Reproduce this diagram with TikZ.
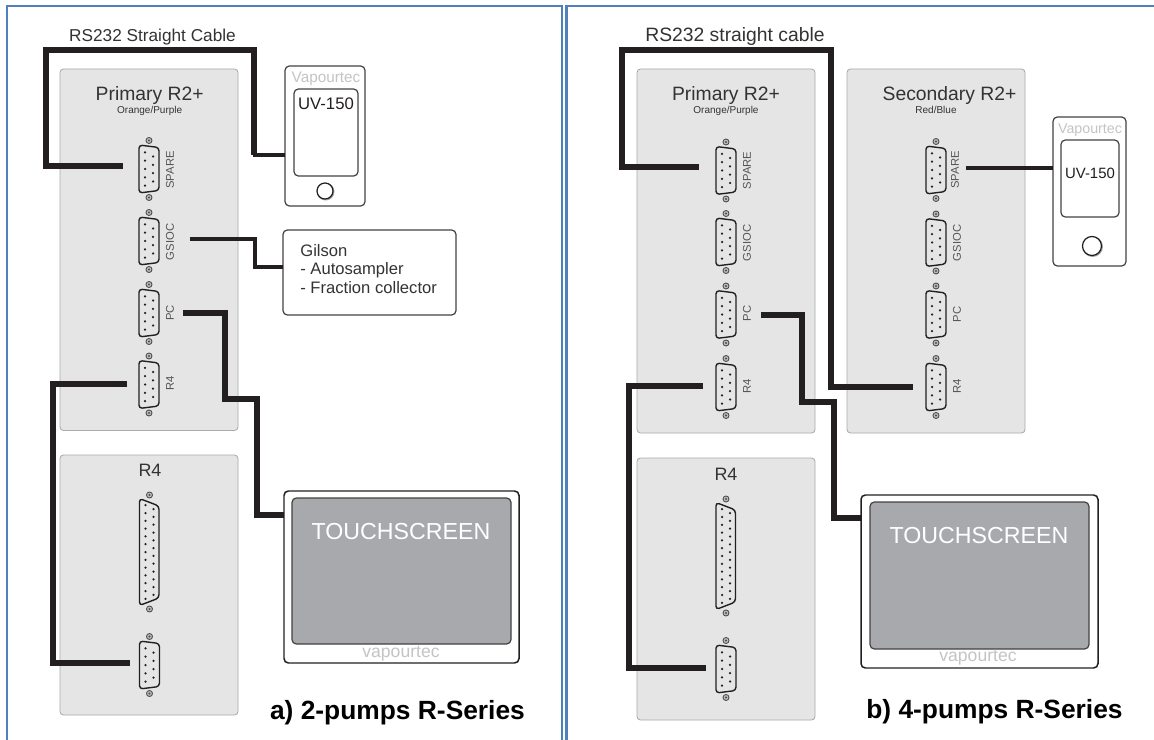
\documentclass[tikz,border=0pt]{standalone}
\usepackage{fontspec}
\setmainfont{Liberation Sans}
\definecolor{framec}{HTML}{4F81BD}
\definecolor{panelc}{HTML}{E5E5E5}
\definecolor{paneld}{HTML}{ABABAB}
\definecolor{screenc}{HTML}{A7A9AC}
\definecolor{inkc}{HTML}{231F20}
\definecolor{textc}{HTML}{333333}
\definecolor{labelc}{HTML}{555555}
\definecolor{logoc}{HTML}{C4C4C4}
\newcommand{\fs}[1]{\fontsize{#1}{#1}\selectfont}
\tikzset{
  framel/.style={draw=framec,line width=1.4pt},
  panelbox/.style={draw=paneld,fill=panelc,line width=0.5pt,rounded corners=2pt,inner sep=0pt,outer sep=0pt},
  devbox/.style={draw=inkc!85,fill=white,line width=0.7pt,rounded corners=2.5pt,inner sep=0pt,outer sep=0pt},
  touchbox/.style={draw=inkc,fill=white,line width=0.85pt,rounded corners=2.5pt,inner sep=0pt,outer sep=0pt},
  screenbox/.style={draw=inkc!85,fill=screenc,line width=0.7pt,rounded corners=2.5pt,inner sep=0pt,outer sep=0pt},
  lampc/.style={circle,draw=inkc,fill=white,line width=0.7pt,inner sep=0pt,outer sep=0pt},
  port/.style={inner sep=0pt,outer sep=0pt,minimum width=0.4cm,minimum height=0.96cm},
  cablefat/.style={draw=inkc,line width=3.6pt,line join=miter},
  cablethin/.style={draw=inkc,line width=2.1pt,line join=miter},
  title/.style={text=textc,inner sep=0pt,anchor=base},
  portlabel/.style={text=labelc,font=\fs{6.4},rotate=90,inner sep=0pt},
  body/.style={draw=inkc,line width=0.8pt,rounded corners=1.9pt},
}
% corners -> node
\newcommand{\bx}[6]{\node[#1,minimum width={(#5-#3)*0.02cm},minimum height={(#6-#4)*0.02cm}] (#2) at ({(#3+#5)/2},{(#4+#6)/2}) {};}
\newcommand{\screws}[3]{%
  \foreach \s in {-1,1} {
    \draw[inkc!80,fill=panelc!60!gray,line width=0.5pt] (#1,{#2+\s*#3}) circle[radius=3];
    \fill[inkc!80] (#1,{#2+\s*#3}) circle[radius=1.2];
  }}
% D-sub 9: name, cx, cy, label, label dx, label dy
\newcommand{\dnine}[6]{%
  \node[port] (#1) at (#2,#3) {};
  \begin{scope}[shift={(#2,#3)}]
    \draw[body] (-10,-24) -- (10,-21.5) -- (10,21.5) -- (-10,24) -- cycle;
    \foreach \d in {-16.7,-8.35,0,8.35,16.7} \fill[inkc] (-4,\d) circle[radius=1.25];
    \foreach \d in {-12.5,-4.2,4.2,12.5} \fill[inkc] (4,\d) circle[radius=1.25];
  \end{scope}
  \screws{#2}{#3}{28.5}
  \node[portlabel] (#1-l) at ({#2+#5},{#3+#6}) {#4};}
% D-sub 25: name, cx, cy
\newcommand{\dtwofive}[3]{%
  \node[port,minimum height=2.1cm] (#1) at (#2,#3) {};
  \begin{scope}[shift={(#2,#3)}]
    \draw[body] (-10,-53.5) -- (9.5,-46) -- (9.5,46) -- (-10,53.5) -- cycle;
    \foreach \k in {-6,...,6} \fill[inkc] (-4,{\k*7.8}) circle[radius=1.25];
    \foreach \k in {-5.5,-4.5,...,5.5} \fill[inkc] (4,{\k*7.8}) circle[radius=1.25];
  \end{scope}
  \screws{#2}{#3}{57}}
\begin{document}
\begin{tikzpicture}[x=0.02cm,y=-0.02cm]
\useasboundingbox (0,0) rectangle (1154,740);
\fill[white] (0,0) rectangle (1154,740);
% frames
\coordinate (fa) at (7,740); \coordinate (fb) at (7,6); \coordinate (fc) at (562,6); \coordinate (fd) at (562,740);
\coordinate (ga) at (566.7,740); \coordinate (gb) at (566.7,6); \coordinate (gc) at (1154,6);
\draw[framel] (fa) -- (fb) -- (fc) -- (fd);
\draw[framel] (ga) -- (gb) -- (gc);

% ===== LEFT =====
\bx{panelbox}{pA}{60}{69}{238}{430.5}
\bx{panelbox}{rA}{60}{455}{238}{715}
\node[title,font=\fs{11}] (pAt) at (149.7,101) {Primary R2+};
\node[title,font=\fs{5.7}] (pAs) at (149.7,113.7) {Orange/Purple};
\node[title,font=\fs{10.2}] (rAt) at (150,476.7) {R4};
\dnine{Asp}{149}{169}{SPARE}{21}{1}
\dnine{Ags}{149}{241}{GSIOC}{21}{1}
\dnine{Apc}{149}{313}{PC}{21}{0}
\dnine{Ar4}{149}{384.5}{R4}{21}{-1}
\dtwofive{Adb}{149.5}{552}
\dnine{Alo}{149.5}{665}{}{0}{0}

% UV left
\bx{devbox}{uvA}{285}{66}{365}{206}
\bx{devbox}{uvAi}{294}{89}{358}{176}
\node[text=logoc,font=\fs{8.7},inner sep=0pt,anchor=base] (uvAv) at (326,83) {Vapourtec};
\node[text=inkc,font=\fs{9.5},inner sep=0pt,anchor=base] (uvAt) at (326,110) {UV-150};
\fill[gray!70] (325.7,191.7) circle[radius=8.8];
\node[lampc,minimum size=0.32cm] (uvAc) at (325,191) {};

% Gilson
\bx{devbox}{gil}{283}{230}{456}{315}
\node[text=textc,font=\fs{9.45},inner sep=0pt,anchor=base west] (gil1) at (300,256) {Gilson};
\node[text=textc,font=\fs{9.45},inner sep=0pt,anchor=base west] (gil2) at (300,275) {- Autosampler};
\node[text=textc,font=\fs{9.45},inner sep=0pt,anchor=base west] (gil3) at (300,294) {- Fraction collector};

% Touchscreen left
\bx{touchbox}{tsA}{284}{491}{519}{663}
\bx{screenbox}{tsAi}{292}{498}{511}{644}
\node[text=white,font=\fs{13.2},inner sep=0pt,anchor=base] (tsAt) at (401,539) {TOUCHSCREEN};
\node[text=logoc,font=\fs{10},inner sep=0pt,anchor=base] (tsAv) at (401,657) {vapourtec};

\node[title,font=\fs{9.8}] (capA) at (152.5,41.7) {RS232 Straight Cable};
\node[text=black,font=\bfseries\fs{15},inner sep=0pt,anchor=base] (titA) at (397.5,719) {a) 2-pumps R-Series};

% cables left
\coordinate (cA1) at (122.7,166);
\coordinate (cA2) at (254,155);
\draw[cablefat] (cA1) -- ++(-76.7,0) -- ++(0,-116) -- ++(208,0) -- (cA2);
\draw[cablethin] (252.5,155) -- (uvA.west |- cA2);
\coordinate (cB1) at (190,239);
\coordinate (cB2) at (255,267);
\draw[cablethin] (cB1) -| (cB2) -- (gil.west |- cB2);
\coordinate (cC1) at (183,313);
\coordinate (cC2) at (257,515);
\draw[cablefat] (cC1) -- ++(42,0) -- ++(0,86) -- ++(32,0) -- (cC2) -- (tsA.west |- cC2);
\coordinate (cD1) at (127,384);
\coordinate (cD2) at (130,663);
\draw[cablefat] (cD1) -- ++(-74,0) |- (cD2);

% ===== RIGHT =====
\bx{panelbox}{pB}{637}{69}{815}{433}
\bx{panelbox}{rB}{637}{458}{815}{720}
\bx{panelbox}{sB}{847}{69}{1025}{433}
\node[title,font=\fs{11}] (pBt) at (726,101) {Primary R2+};
\node[title,font=\fs{5.7}] (pBs) at (726,114) {Orange/Purple};
\node[title,font=\fs{10.2}] (rBt) at (726,480) {R4};
\node[title,font=\fs{11}] (sBt) at (949.5,101) {Secondary R2+};
\node[title,font=\fs{5.7}] (sBs) at (936,114) {Red/Blue};
\dnine{Bsp}{726}{170.5}{SPARE}{21}{0}
\dnine{Bgs}{726}{242}{GSIOC}{21}{1}
\dnine{Bpc}{726}{314.5}{PC}{21}{-1}
\dnine{Br4}{726}{387}{R4}{21}{-1}
\dtwofive{Bdb}{726}{556}
\dnine{Blo}{726}{669}{}{0}{0}
\dnine{Ssp}{936}{170}{SPARE}{19}{0}
\dnine{Sgs}{936}{242.5}{GSIOC}{21}{0.5}
\dnine{Spc}{936}{314.5}{PC}{21}{0}
\dnine{Sr4}{936}{387}{R4}{21}{-1}

% UV right
\bx{devbox}{uvB}{1053}{117}{1126}{266}
\bx{devbox}{uvBi}{1061}{140}{1119}{217}
\node[text=logoc,font=\fs{8.1},inner sep=0pt,anchor=base] (uvBv) at (1090,133) {Vapourtec};
\node[text=inkc,font=\fs{8.5},inner sep=0pt,anchor=base] (uvBt) at (1090,179) {UV-150};
\fill[gray!70] (1092.7,246.7) circle[radius=10.3];
\node[lampc,minimum size=0.38cm] (uvBc) at (1092,246) {};

% Touchscreen right
\bx{touchbox}{tsB}{861}{495}{1098}{668}
\bx{screenbox}{tsBi}{870}{502}{1089}{649}
\node[text=white,font=\fs{13.2},inner sep=0pt,anchor=base] (tsBt) at (979,543) {TOUCHSCREEN};
\node[text=logoc,font=\fs{10},inner sep=0pt,anchor=base] (tsBv) at (978,661.7) {vapourtec};

\node[title,font=\fs{11}] (capB) at (735,41.7) {RS232 straight cable};
\node[text=black,font=\bfseries\fs{15},inner sep=0pt,anchor=base] (titB) at (994.5,718) {b) 4-pumps R-Series};

% cables right
\coordinate (dA1) at (698.7,167);
\coordinate (dA2) at (913,387);
\draw[cablefat] (dA1) -- ++(-77,0) -- ++(0,-117) -- ++(209.5,0) |- (dA2);
\coordinate (dB1) at (966,168);
\draw[cablethin] (dB1) -- (uvB.west |- dB1);
\coordinate (dC1) at (761,315);
\coordinate (dC2) at (834,518);
\draw[cablefat] (dC1) -- ++(41,0) -- ++(0,87) -- ++(32,0) -- (dC2) -- (tsB.west |- dC2);
\coordinate (dD1) at (703,386);
\coordinate (dD2) at (706,668);
\draw[cablefat] (dD1) -- ++(-74,0) |- (dD2);
\end{tikzpicture}
\end{document}
